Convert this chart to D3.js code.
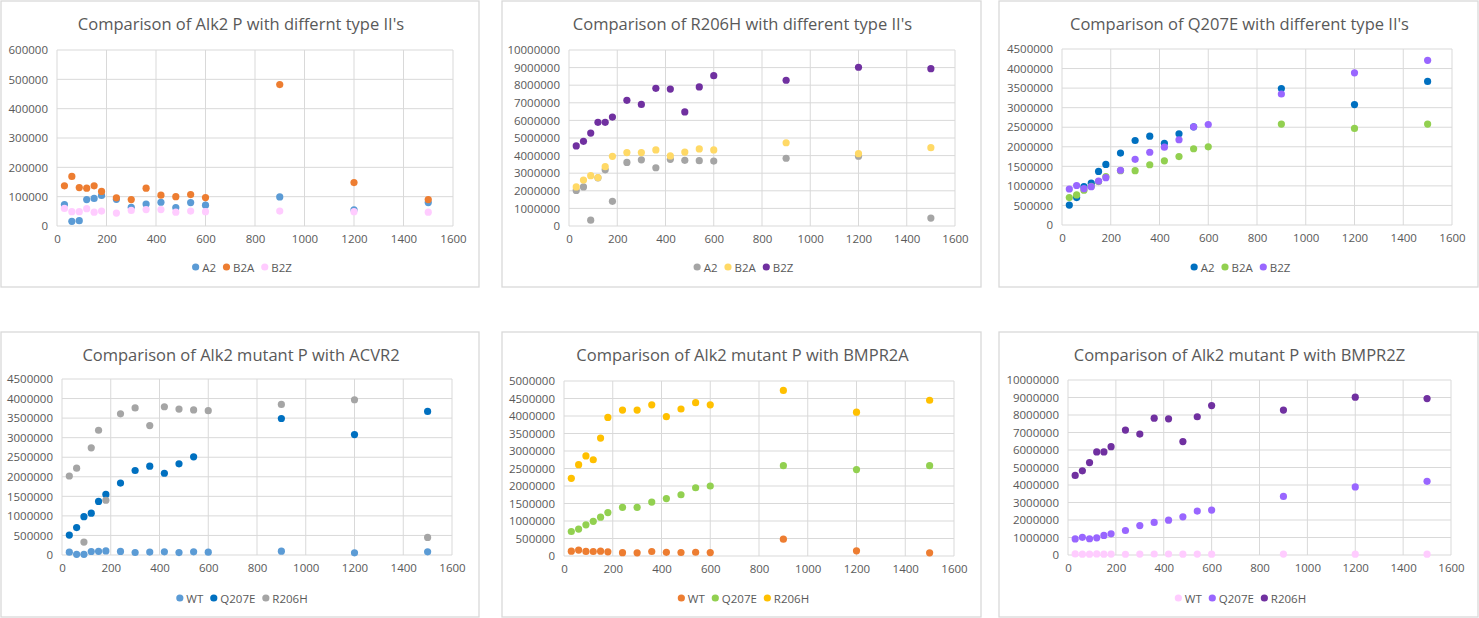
<!DOCTYPE html>
<html>
<head>
<meta charset="utf-8">
<title>Alk2 comparison scatter charts</title>
<script src="https://d3js.org/d3.v7.min.js"></script>
<style>
  body { margin: 0; background: #fff; }
  svg { display: block; font-family: "Open Sans", "Liberation Sans", sans-serif; }
</style>
</head>
<body>
<div id="charts"></div>
<script>
// time points (x axis), same for every series
const times = [30, 60, 90, 120, 150, 180, 240, 300, 360, 420, 480, 540, 600, 900, 1200, 1500];

// WT Alk2 P
const wtA2  = [73000, 16000, 18000, 90000, 94000, 104000, 91000, 64000, 75000, 81000, 63000, 80000, 71000, 99000, 55000, 80000];
const wtB2A = [137000, 169000, 131000, 129000, 137000, 118000, 96000, 90000, 129000, 105000, 100000, 107000, 97000, 482000, 148000, 90000];
const wtB2Z = [60000, 49000, 49000, 59000, 47000, 51000, 44000, 53000, 56000, 56000, 47000, 51000, 49000, 51000, 49000, 47000];

// R206H
const r206A2  = [2020000, 2220000, 330000, 2740000, 3190000, 1400000, 3610000, 3760000, 3310000, 3790000, 3730000, 3710000, 3690000, 3850000, 3970000, 450000];
const r206B2A = [2220000, 2610000, 2860000, 2750000, 3370000, 3960000, 4170000, 4170000, 4320000, 3980000, 4200000, 4380000, 4320000, 4730000, 4110000, 4450000];
const r206B2Z = [4550000, 4810000, 5280000, 5890000, 5890000, 6190000, 7140000, 6910000, 7820000, 7780000, 6480000, 7900000, 8540000, 8280000, 9020000, 8940000];

// Q207E (no A2 reading at 600)
const q207A2  = [510000, 700000, 980000, 1070000, 1370000, 1550000, 1840000, 2160000, 2270000, 2090000, 2330000, 2510000, null, 3490000, 3080000, 3670000];
const q207B2A = [700000, 770000, 890000, 990000, 1110000, 1240000, 1390000, 1390000, 1540000, 1640000, 1750000, 1950000, 2000000, 2580000, 2470000, 2580000];
const q207B2Z = [920000, 1010000, 930000, 980000, 1120000, 1210000, 1400000, 1680000, 1860000, 1990000, 2180000, 2510000, 2570000, 3350000, 3890000, 4210000];

const xTicks = d3.range(0, 1601, 200);

const colors = {
  lightBlue: "#5b9bd5", orange: "#ed7d31", pink: "#ffccff",
  grey: "#a5a5a5", yellow: "#ffd966", purple: "#7030a0",
  blue: "#0070c0", green: "#92d050", violet: "#9966ff", gold: "#ffc000"
};

const charts = [
  { title: "Comparison of Alk2 P with differnt type II's", yMax: 600000, yStep: 100000,
    box: [1, 1, 478, 286], plot: [57, 50, 453, 226],
    series: [["A2", wtA2, colors.lightBlue], ["B2A", wtB2A, colors.orange], ["B2Z", wtB2Z, colors.pink]] },
  { title: "Comparison of R206H with different type II's", yMax: 10000000, yStep: 1000000,
    box: [502, 1, 479, 286], plot: [569, 50, 955, 226],
    series: [["A2", r206A2, colors.grey], ["B2A", r206B2A, colors.yellow], ["B2Z", r206B2Z, colors.purple]] },
  { title: "Comparison of Q207E with different type II's", yMax: 4500000, yStep: 500000,
    box: [999, 1, 479, 286], plot: [1062, 49, 1452, 225],
    series: [["A2", q207A2, colors.blue], ["B2A", q207B2A, colors.green], ["B2Z", q207B2Z, colors.violet]] },
  { title: "Comparison of Alk2 mutant P with ACVR2", yMax: 4500000, yStep: 500000,
    box: [1, 332, 478, 285], plot: [62, 379, 452, 555],
    series: [["WT", wtA2, colors.lightBlue], ["Q207E", q207A2, colors.blue], ["R206H", r206A2, colors.grey]] },
  { title: "Comparison of Alk2 mutant P with BMPR2A", yMax: 5000000, yStep: 500000,
    box: [502, 332, 479, 285], plot: [564, 381, 954, 556],
    series: [["WT", wtB2A, colors.orange], ["Q207E", q207B2A, colors.green], ["R206H", r206B2A, colors.gold]] },
  { title: "Comparison of Alk2 mutant P with BMPR2Z", yMax: 10000000, yStep: 1000000,
    box: [999, 332, 479, 285], plot: [1068, 380, 1451, 555],
    series: [["WT", wtB2Z, colors.pink], ["Q207E", q207B2Z, colors.violet], ["R206H", r206B2Z, colors.purple]] }
];

const svg = d3.select("#charts").append("svg")
  .attr("width", 1479)
  .attr("height", 618);

charts.forEach(c => {
  const [bx, by, bw, bh] = c.box;
  const [pl, pt, pr, pb] = c.plot;

  svg.append("rect")
    .attr("x", bx).attr("y", by).attr("width", bw).attr("height", bh)
    .attr("fill", "#fff").attr("stroke", "#d9d9d9").attr("stroke-width", 1.3);

  const x = d3.scaleLinear().domain([0, 1600]).range([pl, pr]);
  const y = d3.scaleLinear().domain([0, c.yMax]).range([pb, pt]);
  const yTicks = d3.range(0, c.yMax + 1, c.yStep);

  const g = svg.append("g");

  // gridlines
  g.selectAll(".vg").data(xTicks).join("line")
    .attr("x1", d => x(d)).attr("x2", d => x(d))
    .attr("y1", pt).attr("y2", pb)
    .attr("stroke", "#d9d9d9").attr("stroke-width", 1);
  g.selectAll(".hg").data(yTicks).join("line")
    .attr("x1", pl).attr("x2", pr)
    .attr("y1", d => y(d)).attr("y2", d => y(d))
    .attr("stroke", "#d9d9d9").attr("stroke-width", 1);

  // axes (labels only, Excel style)
  const xAxis = g.append("g").attr("transform", `translate(0,${pb})`)
    .call(d3.axisBottom(x).tickValues(xTicks).tickSize(0).tickPadding(9).tickFormat(d3.format("d")));
  const yAxis = g.append("g").attr("transform", `translate(${pl},0)`)
    .call(d3.axisLeft(y).tickValues(yTicks).tickSize(0).tickPadding(9).tickFormat(d3.format("d")));
  [xAxis, yAxis].forEach(a => {
    a.select(".domain").remove();
    a.selectAll("text")
      .attr("fill", "#595959")
      .style("font-size", "11.5px")
      .style("font-family", "'Open Sans', sans-serif");
  });

  // points
  c.series.forEach(([name, vals, col]) => {
    const pts = times.map((t, i) => [t, vals[i]]).filter(d => d[1] != null);
    g.append("g").selectAll("circle").data(pts).join("circle")
      .attr("cx", d => x(d[0]))
      .attr("cy", d => y(d[1]))
      .attr("r", 3.6)
      .attr("fill", col);
  });

  // title
  svg.append("text")
    .attr("x", bx + bw / 2 + 1)
    .attr("y", by + 22)
    .attr("text-anchor", "middle")
    .attr("dominant-baseline", "central")
    .attr("fill", "#595959")
    .style("font-size", "16.5px")
    .text(c.title);

  // legend
  const leg = svg.append("g");
  let cursor = 0;
  c.series.forEach(([name, , col]) => {
    const item = leg.append("g").attr("transform", `translate(${cursor},0)`);
    item.append("circle").attr("cx", 3.5).attr("cy", 0).attr("r", 3.6).attr("fill", col);
    const t = item.append("text")
      .attr("x", 10).attr("y", 0)
      .attr("dominant-baseline", "central")
      .attr("fill", "#595959")
      .style("font-size", "11.5px")
      .text(name);
    cursor += 10 + t.node().getComputedTextLength() + 7;
  });
  const legW = cursor - 7;
  const midX = bx + bw / 2 + 2;
  leg.attr("transform", `translate(${midX - legW / 2},${by + 266})`);
});
</script>
</body>
</html>
